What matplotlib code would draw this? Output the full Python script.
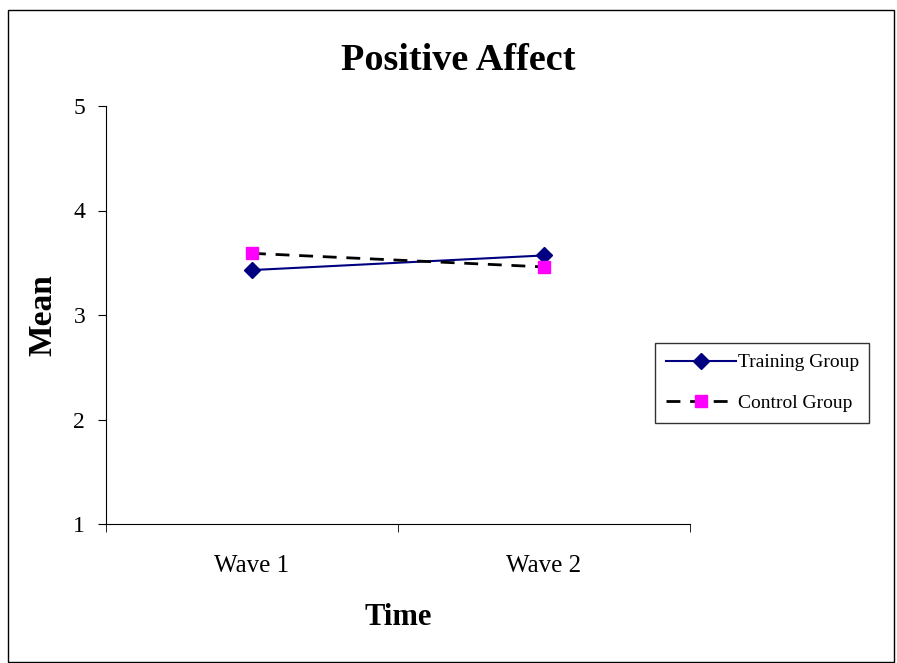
import matplotlib
matplotlib.use('Agg')
import matplotlib.pyplot as plt
from matplotlib.patches import Rectangle

waves = ['Wave 1', 'Wave 2']
training = [3.43, 3.57]
control = [3.59, 3.46]
y_ticks = [1, 2, 3, 4, 5]

plt.rcParams['font.family'] = 'Liberation Serif'

fig = plt.figure(figsize=(8.97, 6.63), dpi=100)
ax = fig.add_axes([106 / 897, 1 - 524 / 663, 584 / 897, 418 / 663])

x = range(len(waves))
ax.plot(x, training, color='#000080', lw=1.5, marker='D', ms=8,
        label='Training Group')
ax.plot(x, control, color='black', lw=2, ls=(0, (5, 3.5)), marker='s', ms=8,
        mfc='#ff00ff', mec='#ff00ff', label='Control Group')

ax.set_xlim(-0.5, 1.5)
ax.set_ylim(1, 5)
ax.set_yticks(y_ticks)
ax.set_xticks([0, 1])
ax.set_xticklabels(waves, fontsize=18)
ax.set_xticks([-0.5, 0.5, 1.5], minor=True)
ax.tick_params(axis='x', which='major', length=0, pad=22)
ax.tick_params(axis='x', which='minor', length=6, direction='out')
ax.tick_params(axis='y', labelsize=17, length=6, direction='out', pad=9)
ax.spines['top'].set_visible(False)
ax.spines['right'].set_visible(False)

fig.text(458 / 897, 1 - 61 / 663, 'Positive Affect', fontsize=27.5,
         fontweight='bold', ha='center', va='center')
ax.set_xlabel('Time', fontsize=22, fontweight='bold', labelpad=19)
ax.set_ylabel('Mean', fontsize=24, fontweight='bold', labelpad=11)

leg = ax.legend(loc='upper left', bbox_to_anchor=(655 / 897, 1 - 343 / 663),
                bbox_transform=fig.transFigure, fontsize=14, frameon=True,
                fancybox=False, edgecolor='black', handlelength=3.6,
                handletextpad=0.1, borderpad=0.55, labelspacing=1.2,
                borderaxespad=0)
leg.get_frame().set_linewidth(1)

fig.patches.append(Rectangle((8 / 897, 0.002), 886 / 897, 1 - 10 / 663 - 0.002,
                             transform=fig.transFigure, fill=False,
                             edgecolor='black', lw=1))

fig.savefig('out.png', dpi=100)
